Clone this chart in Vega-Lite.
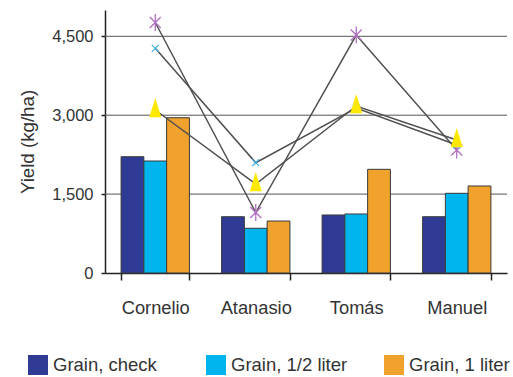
{
  "$schema": "https://vega.github.io/schema/vega-lite/v6.json",
  "width": 402,
  "height": 263,
  "autosize": {"type": "none"},
  "padding": {"left": 105, "top": 10, "right": 6, "bottom": 104},
  "background": "white",
  "config": {
    "view": {"stroke": null},
    "font": "Liberation Sans",
    "axis": {"labelFont": "Liberation Sans", "titleFont": "Liberation Sans", "labelColor": "#333333", "titleColor": "#333333", "grid": false},
    "legend": {"labelFont": "Liberation Sans"}
  },
  "resolve": {"axis": {"y": "independent"}},
  "datasets": {
    "gridlines": [{"level": 1500}, {"level": 3000}, {"level": 4500}],
    "grain": [
      {"farmer": "Cornelio", "series": "Grain, check", "yield": 2211},
      {"farmer": "Cornelio", "series": "Grain, 1/2 liter", "yield": 2129},
      {"farmer": "Cornelio", "series": "Grain, 1 liter", "yield": 2952},
      {"farmer": "Atanasio", "series": "Grain, check", "yield": 1070},
      {"farmer": "Atanasio", "series": "Grain, 1/2 liter", "yield": 850},
      {"farmer": "Atanasio", "series": "Grain, 1 liter", "yield": 988},
      {"farmer": "Tomás", "series": "Grain, check", "yield": 1103},
      {"farmer": "Tomás", "series": "Grain, 1/2 liter", "yield": 1122},
      {"farmer": "Tomás", "series": "Grain, 1 liter", "yield": 1971},
      {"farmer": "Manuel", "series": "Grain, check", "yield": 1070},
      {"farmer": "Manuel", "series": "Grain, 1/2 liter", "yield": 1515},
      {"farmer": "Manuel", "series": "Grain, 1 liter", "yield": 1654}
    ],
    "other": [
      {"farmer": "Cornelio", "series": "Stover, check", "yield": 4762},
      {"farmer": "Atanasio", "series": "Stover, check", "yield": 1150},
      {"farmer": "Tomás", "series": "Stover, check", "yield": 4524},
      {"farmer": "Manuel", "series": "Stover, check", "yield": 2338},
      {"farmer": "Cornelio", "series": "Stover, 1/2 liter", "yield": 4271},
      {"farmer": "Atanasio", "series": "Stover, 1/2 liter", "yield": 2097},
      {"farmer": "Tomás", "series": "Stover, 1/2 liter", "yield": 3137},
      {"farmer": "Manuel", "series": "Stover, 1/2 liter", "yield": 2433},
      {"farmer": "Cornelio", "series": "Stover, 1 liter", "yield": 3099},
      {"farmer": "Atanasio", "series": "Stover, 1 liter", "yield": 1692},
      {"farmer": "Tomás", "series": "Stover, 1 liter", "yield": 3175},
      {"farmer": "Manuel", "series": "Stover, 1 liter", "yield": 2528}
    ]
  },
  "layer": [
    {
      "data": {"name": "gridlines"},
      "mark": {"type": "rule", "color": "#555555", "strokeWidth": 1},
      "encoding": {
        "y": {"field": "level", "type": "quantitative", "scale": {"domain": [0, 5000], "nice": false}, "axis": null}
      }
    },
    {
      "data": {"name": "grain"},
      "mark": {"type": "bar", "stroke": "#3a3a3a", "strokeWidth": 1},
      "encoding": {
        "x": {
          "field": "farmer", "type": "nominal",
          "sort": ["Cornelio", "Atanasio", "Tomás", "Manuel"],
          "scale": {"paddingInner": 0.32, "paddingOuter": 0.16},
          "axis": {
            "title": null, "labelAngle": 0, "labelFontSize": 18.3, "labelPadding": 19,
            "tickBand": "extent", "tickSize": 7, "tickColor": "#222222", "tickWidth": 1.5,
            "domainColor": "#222222", "domainWidth": 1.5
          }
        },
        "y": {
          "field": "yield", "type": "quantitative",
          "scale": {"domain": [0, 5000], "nice": false},
          "axis": {
            "title": "Yield (kg/ha)", "titleFontSize": 18.7, "titleFontWeight": "normal", "titlePadding": 14,
            "values": [0, 1500, 3000, 4500], "format": ",.0f", "labelFontSize": 16.5, "labelPadding": 8,
            "tickSize": 4, "tickColor": "#222222", "tickWidth": 1.5,
            "domainColor": "#222222", "domainWidth": 1.5, "grid": false
          }
        },
        "xOffset": {"field": "series", "type": "nominal", "sort": ["Grain, check", "Grain, 1/2 liter", "Grain, 1 liter"], "scale": {"paddingInner": 0, "paddingOuter": 0}},
        "color": {
          "field": "series", "type": "nominal",
          "scale": {"domain": ["Grain, check", "Grain, 1/2 liter", "Grain, 1 liter"], "range": ["#2f3a95", "#00b5ee", "#f0a22c"]},
          "legend": {
            "title": null, "orient": "none", "legendX": -77, "legendY": 345, "direction": "horizontal",
            "columns": 3, "gridAlign": "all", "columnPadding": 36, "padding": 0,
            "symbolType": "square", "symbolSize": 400, "symbolStrokeWidth": 0, "symbolOffset": 0,
            "labelFontSize": 18.5, "labelColor": "#333333", "labelOffset": 5, "labelLimit": 200
          }
        }
      }
    },
    {
      "data": {"name": "other"},
      "mark": {"type": "line", "color": "#505050", "strokeWidth": 1.5},
      "encoding": {
        "x": {"field": "farmer", "type": "nominal", "sort": ["Cornelio", "Atanasio", "Tomás", "Manuel"]},
        "y": {"field": "yield", "type": "quantitative", "axis": null},
        "detail": {"field": "series", "type": "nominal"}
      }
    },
    {
      "data": {"name": "other"},
      "transform": [{"filter": "datum.series === 'Stover, check'"}],
      "mark": {"type": "point", "shape": "M-1,-1L1,1M-1,1L1,-1M0,-1.55L0,1.55", "filled": false, "stroke": "#b070c0", "strokeWidth": 1.3, "size": 121, "opacity": 1},
      "encoding": {
        "x": {"field": "farmer", "type": "nominal", "sort": ["Cornelio", "Atanasio", "Tomás", "Manuel"]},
        "y": {"field": "yield", "type": "quantitative", "axis": null}
      }
    },
    {
      "data": {"name": "other"},
      "transform": [{"filter": "datum.series === 'Stover, 1/2 liter'"}],
      "mark": {"type": "point", "shape": "M-1,-1L1,1M-1,1L1,-1", "filled": false, "stroke": "#3cb4e6", "strokeWidth": 1.2, "size": 49, "opacity": 1},
      "encoding": {
        "x": {"field": "farmer", "type": "nominal", "sort": ["Cornelio", "Atanasio", "Tomás", "Manuel"]},
        "y": {"field": "yield", "type": "quantitative", "axis": null}
      }
    },
    {
      "data": {"name": "other"},
      "transform": [{"filter": "datum.series === 'Stover, 1 liter'"}],
      "mark": {"type": "point", "shape": "M0,-2L1,1.2L-1,1.2Z", "filled": true, "fill": "#ffe800", "strokeWidth": 0, "size": 144, "opacity": 1},
      "encoding": {
        "x": {"field": "farmer", "type": "nominal", "sort": ["Cornelio", "Atanasio", "Tomás", "Manuel"]},
        "y": {"field": "yield", "type": "quantitative", "axis": null}
      }
    }
  ]
}
